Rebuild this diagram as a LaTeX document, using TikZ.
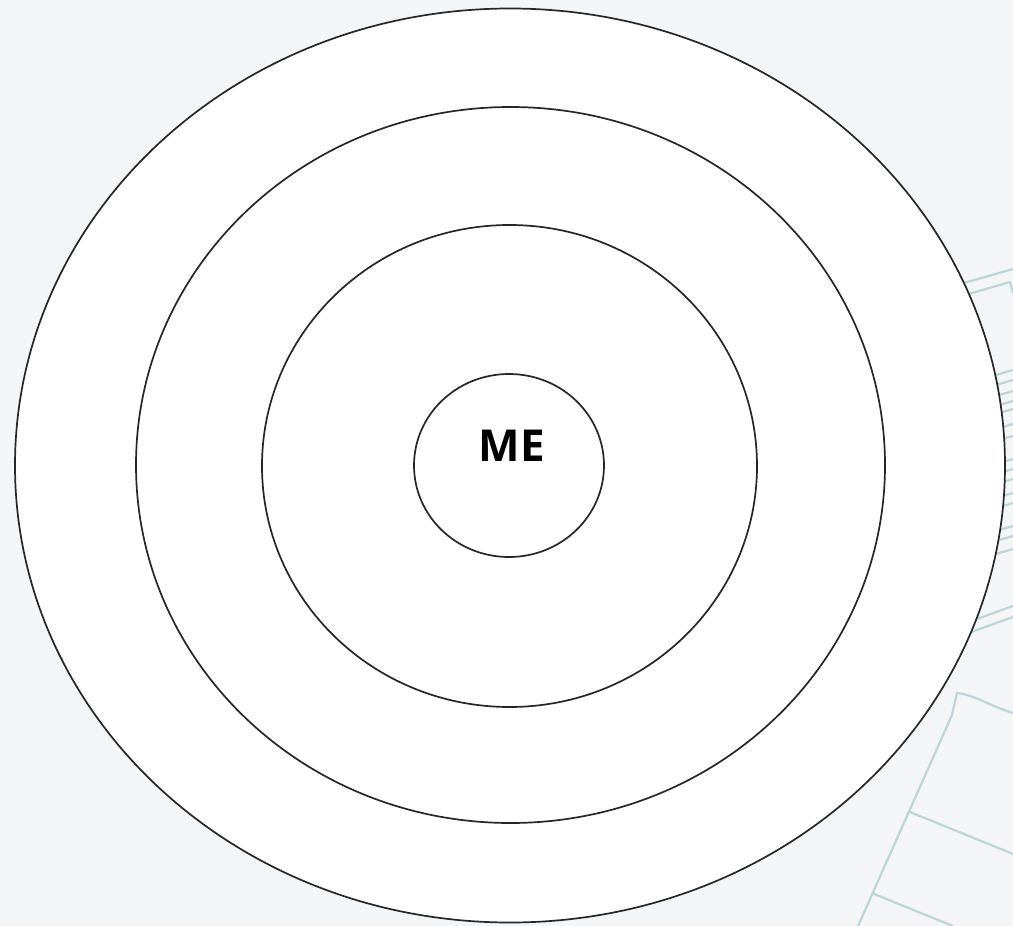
\documentclass[tikz,border=0pt]{standalone}
\usepackage{fontspec}
\setmainfont{Open Sans}
\usetikzlibrary{shapes.geometric}
\definecolor{bg}{HTML}{F4F5F7}
\definecolor{teal}{HTML}{BCD6D4}
\begin{document}
\begin{tikzpicture}[x=1pt,y=-1pt,
  ring/.style={draw=black!85,line width=1.7pt,fill=white,ellipse,inner sep=0},
  sketch/.style={draw=teal,line width=2.2pt,line cap=round,line join=round}]
\fill[bg] (0,0) rectangle (1013,926);
\useasboundingbox (0,0) rectangle (1013,926);
% background sketch lines
\draw[sketch] (960,284) -- (1013,269);
\draw[sketch] (965,295) -- (1010,282) -- (1013,293);
\foreach \yy in {375,385,396,406,414,429,441,464,474,484,498,508,531,541,554}{
  \draw[sketch] (975,\yy+6) -- (1013,\yy-5);
}
\draw[sketch] (960,625) -- (1013,606);
\draw[sketch] (960,636) -- (1013,617);
\draw[sketch] (1013,713) .. controls (990,706) and (975,695) .. (957,693) -- (952,715) -- (858,926);
\draw[sketch] (910,812) -- (1013,854);
\draw[sketch] (874,894) -- (953,926);
% rings
\node[ring,minimum width=990,minimum height=914] (r4) at (510,465.5) {};
\node[ring,minimum width=749,minimum height=716] (r3) at (510.5,465) {};
\node[ring,minimum width=495,minimum height=482] (r2) at (509.5,466) {};
\node[ring,minimum width=190,minimum height=183] (r1) at (509,465.5) {};
\node[font=\bfseries\fontsize{44}{44}\selectfont] (me) at (512,446) {ME};
\end{tikzpicture}
\end{document}
